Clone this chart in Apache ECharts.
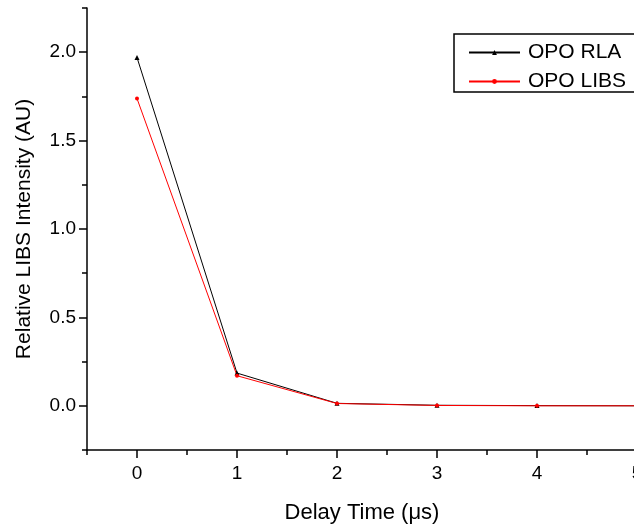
<!DOCTYPE html>
<html><head><meta charset="utf-8">
<script src="https://cdn.jsdelivr.net/npm/echarts@6/dist/echarts.min.js"></script>
<style>html,body{margin:0;padding:0;background:#fff}#c{width:634px;height:527px}</style>
</head><body><div id="c"></div>
<script>
const delayTimes = [0, 1, 2, 3, 4, 5];
const opoRLA = [1.97, 0.185, 0.014, 0.003, 0.001, 0.0];
const opoLIBS = [1.738, 0.17, 0.013, 0.002, 0.0, 0.0];
const yMajorTicks = [0, 0.5, 1.0, 1.5, 2.0];
const yMinorTicks = [-0.25, 0.25, 0.75, 1.25, 1.75, 2.25];
const xMajorTicks = [0, 1, 2, 3, 4, 5];
const xMinorTicks = [-0.5, 0.5, 1.5, 2.5, 3.5, 4.5];

const font = 'Liberation Sans, Arial, sans-serif';
const chart = echarts.init(document.getElementById('c'));
const grid = {left: 87, top: 8, right: -3, bottom: 77, outerBoundsMode: 'none', containLabel: false};
chart.setOption({
  animation: false,
  grid: grid,
  xAxis: [{
    type: 'value', min: -0.5, max: 5,
    name: 'Delay Time (\u03bcs)', nameLocation: 'middle', nameGap: 52,
    nameTextStyle: {fontFamily: font, fontSize: 22, color: '#000'},
    axisLine: {onZero: false, lineStyle: {color: '#000', width: 1.5}},
    axisTick: {customValues: xMajorTicks, length: 8, lineStyle: {color: '#000', width: 1.5}},
    axisLabel: {customValues: xMajorTicks, fontFamily: font, fontSize: 19, color: '#000', margin: 14},
    splitLine: {show: false}
  }, {
    type: 'value', min: -0.5, max: 5, position: 'bottom',
    axisLine: {show: false, onZero: false},
    axisTick: {customValues: xMinorTicks, length: 5, lineStyle: {color: '#000', width: 1.5}},
    axisLabel: {show: false}, splitLine: {show: false}
  }],
  yAxis: [{
    type: 'value', min: -0.25, max: 2.25,
    name: 'Relative LIBS Intensity (AU)', nameLocation: 'middle', nameGap: 52, nameRotate: 90,
    nameTextStyle: {fontFamily: font, fontSize: 21, color: '#000'},
    axisLine: {show: true, onZero: false, lineStyle: {color: '#000', width: 1.5}},
    axisTick: {show: true, customValues: yMajorTicks, length: 8, lineStyle: {color: '#000', width: 1.5}},
    axisLabel: {customValues: yMajorTicks, fontFamily: font, fontSize: 19, color: '#000', margin: 11,
      formatter: v => v.toFixed(1)},
    splitLine: {show: false}
  }, {
    type: 'value', min: -0.25, max: 2.25, position: 'left',
    axisLine: {show: false, onZero: false},
    axisTick: {show: true, customValues: yMinorTicks, length: 5, lineStyle: {color: '#000', width: 1.5}},
    axisLabel: {show: false}, splitLine: {show: false}
  }],
  legend: {
    orient: 'vertical', left: 468, top: 42, padding: 0,
    itemWidth: 51, itemHeight: 6, itemGap: 8,
    textStyle: {fontFamily: font, fontSize: 21, lineHeight: 20, color: '#000', padding: [0, 0, 0, 3]},
    data: ['OPO RLA', 'OPO LIBS']
  },
  graphic: [{
    type: 'polyline', shape: {points: [[660, 34], [454, 34], [454, 92], [660, 92]]},
    style: {fill: 'none', stroke: '#000', lineWidth: 1.5}, z: 10
  }],
  series: [{
    name: 'OPO RLA', type: 'line',
    data: delayTimes.map((x, i) => [x, opoRLA[i]]),
    symbol: 'triangle', symbolSize: 5,
    lineStyle: {color: '#000', width: 1}, itemStyle: {color: '#000'}
  }, {
    name: 'OPO LIBS', type: 'line',
    data: delayTimes.map((x, i) => [x, opoLIBS[i]]),
    symbol: 'circle', symbolSize: 4,
    lineStyle: {color: '#ff0000', width: 1}, itemStyle: {color: '#ff0000'}
  }]
});
</script></body></html>
